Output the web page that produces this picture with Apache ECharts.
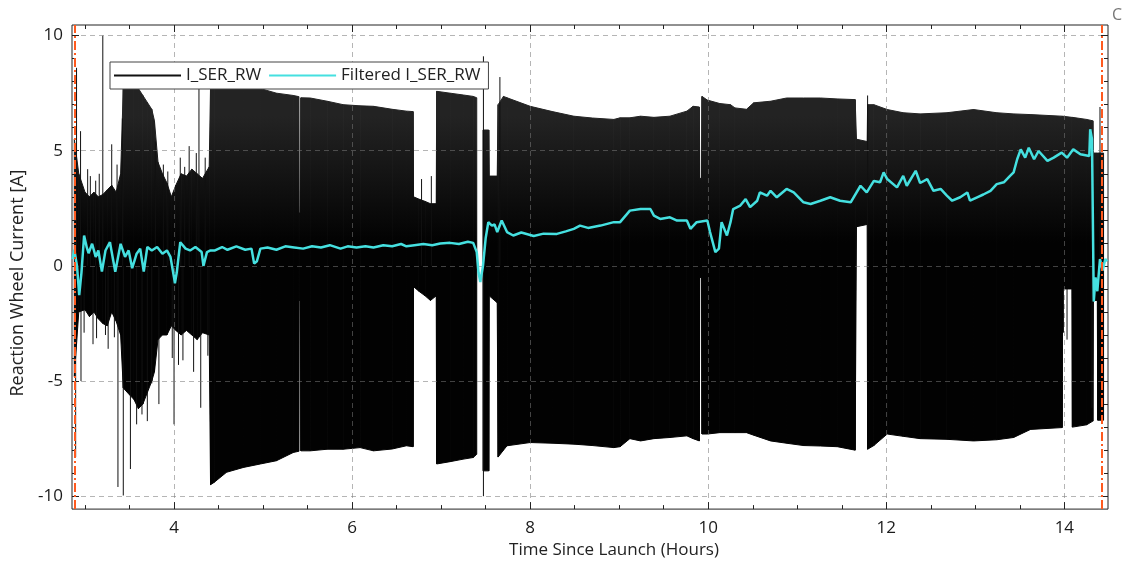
<!DOCTYPE html>
<html><head><meta charset="utf-8">
<script src="https://cdn.jsdelivr.net/npm/echarts@6/dist/echarts.min.js"></script>
<style>html,body{margin:0;padding:0;background:#fff}#c{width:1126px;height:564px}</style>
</head><body><div id="c"></div>
<script>
// ---------- axis ranges & ticks ----------
const xRange = [2.854, 14.49];
const yRange = [-10.56, 10.46];
const xMajorTicks = [4, 6, 8, 10, 12, 14];
const xMinorTicks = [3, 3.5, 4.5, 5, 5.5, 6.5, 7, 7.5, 8.5, 9, 9.5, 10.5, 11, 11.5, 12.5, 13, 13.5];
const yMajorTicks = [-10, -5, 0, 5, 10];
const yMinorTicks = [-9, -8, -7, -6, -4, -3, -2, -1, 1, 2, 3, 4, 6, 7, 8, 9];

// ---------- I_SER_RW : dense oscillation envelope (hours, upper, lower); null = no signal ----------
const envT  = [2.88,2.93,3.00,3.05,3.10,3.15,3.20,3.25,3.30,3.35,3.40,3.43,3.50,3.55,3.60,3.65,3.70,3.75,3.78,3.82,3.87,3.92,3.97,4.02,4.08,4.14,4.20,4.26,4.32,4.395,
  4.41,4.45,4.59,4.78,4.97,5.15,5.34,5.40,5.405,5.42,5.425,5.53,5.72,5.90,6.09,6.24,6.45,6.61,6.685,6.69,6.75,6.82,6.88,6.945,6.95,7.10,7.25,7.36,7.40,7.43,
  7.47,7.535,7.54,7.63,7.64,7.70,7.74,8.00,8.25,8.49,8.70,8.94,9.01,9.12,9.24,9.39,9.57,9.76,9.83,9.90,9.905,9.925,9.93,9.99,10.13,10.25,10.30,10.43,10.51,10.70,
  10.88,11.07,11.26,11.45,11.65,11.665,11.785,11.79,11.86,12.01,12.19,12.38,12.68,12.98,13.24,13.43,13.62,13.975,13.98,14.085,14.09,14.25,14.32,14.325,14.37,14.375,14.44];
const envHi = [5.5,4.0,3.2,3.0,3.2,3.0,3.1,3.3,3.5,3.2,4.0,7.7,7.8,7.8,7.7,7.4,7.1,6.8,6.3,4.5,4.0,3.6,3.0,3.5,4.0,3.9,4.2,4.0,3.8,4.3,
  7.8,7.8,7.8,7.8,7.7,7.5,7.4,7.35,2.3,2.3,7.3,7.29,7.15,7.0,6.95,6.93,6.8,6.72,6.7,3.0,2.9,2.8,2.7,2.7,7.58,7.5,7.42,7.36,7.3,null,
  5.9,5.9,3.9,3.9,7.0,7.36,7.3,6.93,6.7,6.5,6.42,6.36,6.43,6.43,6.5,6.45,6.5,6.72,6.93,6.9,3.8,3.8,7.36,7.2,7.05,7.0,6.86,6.8,7.08,7.15,
  7.29,7.29,7.29,7.25,7.22,5.5,5.4,7.0,7.0,6.79,6.65,6.6,6.65,6.79,6.65,6.6,6.57,6.5,6.5,6.45,6.45,6.36,6.3,4.9,4.9,4.9,4.9];
const envLo = [-4.8,-2.0,-1.9,-2.2,-2.0,-2.3,-2.5,-2.6,-2.0,-2.4,-3.0,-5.3,-5.6,-5.8,-6.2,-6.0,-5.5,-5.0,-4.6,-3.2,-3.0,-3.0,-2.6,-2.8,-3.0,-2.8,-3.0,-3.2,-2.9,-3.0,
  -9.5,-9.4,-8.96,-8.75,-8.6,-8.46,-8.1,-8.05,-1.5,-1.5,-8.03,-8.03,-7.96,-7.96,-7.89,-8.03,-7.95,-7.81,-7.85,-0.9,-1.1,-1.3,-1.5,-1.3,-8.6,-8.5,-8.39,-8.32,-8.18,null,
  -8.9,-8.9,-1.3,-1.6,-8.3,-8.0,-7.81,-7.67,-7.7,-7.74,-7.8,-7.89,-7.85,-7.5,-7.6,-7.5,-7.45,-7.38,-7.5,-7.6,-0.5,-0.5,-7.3,-7.3,-7.24,-7.24,-7.24,-7.24,-7.35,-7.6,
  -7.7,-7.8,-7.82,-7.85,-8.0,1.7,1.8,-7.96,-7.8,-7.3,-7.4,-7.5,-7.53,-7.6,-7.55,-7.45,-7.1,-7.02,-1.0,-1.0,-7.0,-6.9,-6.74,-1.5,-1.5,-6.7,-6.7];

// ---------- I_SER_RW : isolated spikes (hours, start, end) ----------
const spikeT    = [2.905,2.895,2.95,2.955,2.99,3.03,3.06,3.09,3.12,3.13,3.16,3.20,3.23,3.26,3.30,3.33,3.36,3.37,3.42,3.43,3.51,3.58,3.64,3.70,3.75,3.79,3.83,3.88,3.93,3.98,
  4.00,4.05,4.07,4.10,4.12,4.17,4.22,4.25,4.28,4.30,4.35,4.38,6.78,6.89,7.475,7.66,11.79,13.99,14.03,14.31,14.40];
const spikeFrom = [0,0,0,0,0,0,0,0,0,0,0,0,0,0,0,0,0,0,0,0,0,0,0,0,0,0,0,0,0,0,
  0,0,0,0,0,0,0,0,0,0,0,0,0,0,9.1,0,0,-1,-1,0,0];
const spikeTo   = [8.6,-8.3,5.85,-5.0,-2.9,4.2,3.9,-3.4,3.7,-3.14,4.0,10.0,-3.0,-3.6,5.28,-3.1,4.4,-9.6,6.4,-9.97,-8.82,-6.88,-6.45,-6.74,-5.1,5.4,-6.0,4.4,4.1,-4.0,
  -6.88,-4.3,4.7,-4.1,4.3,5.2,-4.6,4.9,7.7,-6.16,4.7,-3.9,3.77,3.9,-10.0,8.2,7.4,-2.9,-3.2,-6.16,6.9];

// ---------- Filtered I_SER_RW ----------
const filtT = [2.86,2.88,2.91,2.935,2.96,2.99,3.02,3.04,3.08,3.12,3.15,3.19,3.23,3.28,3.34,3.40,3.45,3.49,3.53,3.58,3.62,3.66,3.70,3.75,3.81,3.87,3.92,3.96,4.00,4.01,
  4.03,4.07,4.13,4.18,4.24,4.31,4.33,4.37,4.41,4.46,4.54,4.60,4.70,4.80,4.87,4.90,4.93,4.97,5.05,5.15,5.25,5.35,5.45,5.55,5.65,5.75,5.87,5.95,6.05,6.15,
  6.24,6.35,6.45,6.55,6.61,6.70,6.80,6.90,6.99,7.10,7.20,7.30,7.36,7.40,7.42,7.44,7.47,7.50,7.53,7.57,7.60,7.63,7.68,7.74,7.81,7.90,8.04,8.15,8.30,8.40,
  8.49,8.56,8.65,8.79,8.94,9.01,9.12,9.24,9.35,9.39,9.46,9.57,9.65,9.76,9.80,9.87,9.99,10.02,10.08,10.12,10.15,10.21,10.25,10.28,10.36,10.42,10.47,10.55,10.58,10.66,
  10.70,10.77,10.88,10.96,11.07,11.15,11.26,11.37,11.48,11.60,11.71,11.78,11.86,11.93,11.97,12.01,12.12,12.19,12.23,12.33,12.38,12.46,12.53,12.61,12.68,12.74,12.83,12.91,12.94,13.02,
  13.09,13.17,13.24,13.32,13.39,13.43,13.47,13.51,13.56,13.60,13.66,13.71,13.81,13.88,13.97,14.03,14.10,14.18,14.28,14.29,14.31,14.32,14.33,14.35,14.37,14.40,14.43,14.46,14.48];
const filtV = [0.3,0.7,0.0,-1.27,-0.3,1.32,0.8,0.55,0.96,0.39,0.67,-0.25,0.67,1.03,-0.25,0.96,0.39,0.67,-0.1,0.53,0.75,-0.25,0.82,0.67,0.82,0.53,0.67,0.39,-0.5,-0.76,
  -0.3,1.03,0.75,0.67,0.82,0.6,0.0,0.6,0.67,0.67,0.82,0.7,0.85,0.7,0.75,0.1,0.2,0.75,0.8,0.7,0.85,0.8,0.75,0.85,0.8,0.9,0.75,0.85,0.8,0.85,
  0.8,0.9,0.85,0.95,0.85,0.9,0.95,0.9,0.97,1.0,0.95,1.05,1.0,0.6,-0.3,-0.7,0.0,1.2,1.9,1.75,1.8,1.47,1.97,1.47,1.32,1.45,1.3,1.4,1.39,1.5,
  1.61,1.75,1.65,1.75,1.9,1.9,2.4,2.47,2.47,2.18,2.04,2.11,1.97,1.97,1.61,1.9,1.97,1.47,0.6,0.75,1.9,1.32,1.9,2.47,2.62,2.9,2.55,2.83,3.19,3.05,
  3.26,2.98,3.34,3.19,2.76,2.69,2.83,2.98,2.83,2.76,3.48,3.19,3.69,3.63,4.06,3.77,3.41,3.91,3.48,4.13,3.6,3.77,3.26,3.34,3.05,2.83,2.98,3.19,2.83,2.98,
  3.1,3.26,3.55,3.63,3.91,4.06,4.63,5.06,4.7,5.13,4.63,4.99,4.56,4.7,4.92,4.7,5.06,4.85,4.77,5.93,5.5,2.0,-1.55,-0.5,-1.1,0.3,-0.2,0.3,0.2];

// ---------- vertical event markers ----------
const markerTimes = [2.89, 14.42];

// ---------- build ----------
const FF = "'Open Sans', 'DejaVu Sans', sans-serif";
const envSegs = [];
for (let i = 0; i < envT.length - 1; i++) {
  if (envHi[i] === null || envHi[i + 1] === null) continue;
  envSegs.push([envT[i], envHi[i], envLo[i], envT[i + 1], envHi[i + 1], envLo[i + 1]]);
}
const spikeData = [];
spikeT.forEach((t, i) => { spikeData.push([t, spikeFrom[i]], [t, spikeTo[i]], [t, '-']); });
const filtData = filtT.map((t, i) => [t, filtV[i]]);

const gridCol = 'rgba(120,120,120,0.55)';
const tickCol = '#222';
function xAx(pos, ticks, len, main) {
  return {
    type: 'value', min: xRange[0], max: xRange[1], position: pos, z: 3,
    axisLine: { show: false, onZero: false },
    axisTick: { show: true, inside: true, length: len, customValues: ticks, lineStyle: { color: tickCol, width: 1 } },
    axisLabel: main ? { show: true, customValues: xMajorTicks, margin: 11, fontSize: 17, color: '#1a1a1a', fontFamily: FF } : { show: false },
    splitLine: main ? { show: true, lineStyle: { color: gridCol, type: [5, 4], width: 1 } } : { show: false },
    name: main ? 'Time Since Launch (Hours)' : '', nameLocation: 'middle', nameGap: 30,
    nameTextStyle: { fontSize: 17, color: '#222', fontFamily: FF, padding: [0, 0, 0, 48] }
  };
}
function yAx(pos, ticks, len, main) {
  return {
    type: 'value', min: yRange[0], max: yRange[1], position: pos, z: 3,
    axisLine: { show: false, onZero: false },
    axisTick: { show: true, inside: true, length: len, customValues: ticks, lineStyle: { color: tickCol, width: 1 } },
    axisLabel: main ? { show: true, customValues: yMajorTicks, margin: 9, fontSize: 17, color: '#1a1a1a', fontFamily: FF } : { show: false },
    splitLine: main ? { show: true, lineStyle: { color: gridCol, type: [5, 4], width: 1 } } : { show: false },
    name: main ? 'Reaction Wheel Current [A]' : '', nameLocation: 'middle', nameGap: 39,
    nameTextStyle: { fontSize: 18, color: '#222', fontFamily: FF, padding: [0, 32, 0, 0] }
  };
}

const chart = echarts.init(document.getElementById('c'), null, { renderer: 'canvas' });
chart.setOption({
  animation: false,
  backgroundColor: '#fff',
  grid: { left: 72, right: 18, top: 25, bottom: 52, show: true, borderColor: '#222', borderWidth: 1, backgroundColor: 'transparent' },
  xAxis: [xAx('bottom', xMajorTicks, 7, true), xAx('bottom', xMinorTicks, 4, false), xAx('top', xMajorTicks, 7, false), xAx('top', xMinorTicks, 4, false)],
  yAxis: [yAx('left', yMajorTicks, 7, true), yAx('left', yMinorTicks, 4, false), yAx('right', yMajorTicks, 7, false), yAx('right', yMinorTicks, 4, false)],
  legend: {
    left: 110, top: 62, itemWidth: 67, itemHeight: 14, itemGap: 7, padding: [5, 8, 5, 3],
    borderColor: '#444', borderWidth: 1, borderRadius: 0, backgroundColor: '#fff', z: 10,
    selectedMode: false, data: ['I_SER_RW', 'Filtered I_SER_RW'],
    itemStyle: { opacity: 0 },
    textStyle: { fontSize: 17, color: '#222', fontFamily: FF }
  },
  graphic: [{ type: 'text', left: 1112, top: 7, style: { text: 'C', fontSize: 16, fill: '#777', fontFamily: FF } }],
  series: [
    {
      name: 'envelope', type: 'custom', coordinateSystem: 'cartesian2d', xAxisIndex: 0, yAxisIndex: 0,
      z: 2, silent: true, clip: true, data: envSegs, encode: { x: [0, 3], y: [1, 2, 4, 5] },
      renderItem: function (params, api) {
        const a = api.coord([api.value(0), api.value(1)]);
        const b = api.coord([api.value(3), api.value(4)]);
        const c = api.coord([api.value(3), api.value(5)]);
        const d = api.coord([api.value(0), api.value(2)]);
        const g0 = api.coord([0, 6.5])[1], g1 = api.coord([0, 1])[1];
        const grad = new echarts.graphic.LinearGradient(0, g0, 0, g1, [
          { offset: 0, color: '#232323' }, { offset: 1, color: '#020202' }], true);
        return { type: 'polygon', shape: { points: [a, b, c, d] }, style: { fill: grad, stroke: grad, lineWidth: 1 } };
      }
    },
    {
      name: 'I_SER_RW', type: 'line', xAxisIndex: 0, yAxisIndex: 0, z: 2, data: spikeData,
      symbol: 'none', connectNulls: false, lineStyle: { color: '#111', width: 1 }, itemStyle: { color: '#111' },
      markLine: {
        silent: true, symbol: ['none', 'none'], label: { show: false }, z: 6,
        lineStyle: { color: '#ff5a1f', width: 2, type: [9, 3, 2, 3] },
        data: markerTimes.map(t => ({ xAxis: t }))
      }
    },
    {
      name: 'Filtered I_SER_RW', type: 'line', xAxisIndex: 0, yAxisIndex: 0, z: 4, data: filtData,
      symbol: 'none', lineStyle: { color: '#45e0e0', width: 2.5 }, itemStyle: { color: '#45e0e0' }
    }
  ]
});
</script></body></html>
